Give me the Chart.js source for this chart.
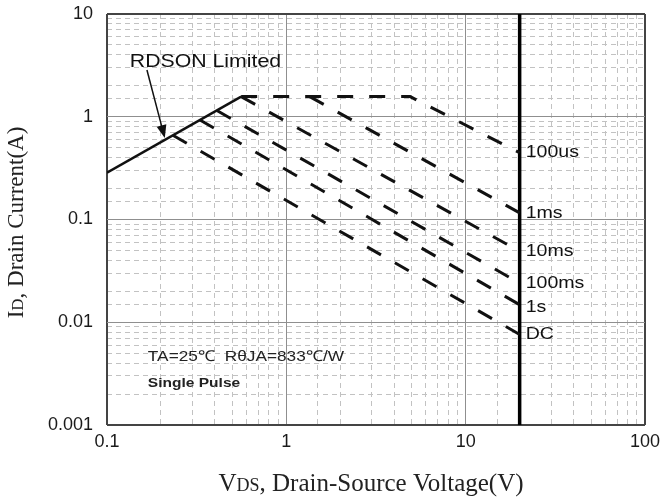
<!DOCTYPE html>
<html>
<head>
<meta charset="utf-8">
<script src="https://cdn.jsdelivr.net/npm/chart.js@4.4.0/dist/chart.umd.min.js"></script>
<style>
html, body { margin: 0; padding: 0; background: #fff; }
#wrap { width: 666px; height: 501px; }
</style>
</head>
<body>
<div id="wrap"><canvas id="soaChart"></canvas></div>
<script>
// decade tick labels
var xTicks = [0.1, 1, 10, 100];
var yTicks = [0.001, 0.01, 0.1, 1, 10];

// RDS(on) limit
var rdsVds = [0.1, 0.56];
var rdsId = [0.285, 1.57];

// pulse width curves
var us100Vds = [0.56, 4.9, 20];
var us100Id = [1.57, 1.57, 0.446];
var ms1Vds = [1.35, 20];
var ms1Id = [1.57, 0.116];
var ms10Vds = [0.56, 20];
var ms10Id = [1.57, 0.049];
var ms100Vds = [0.41, 20];
var ms100Id = [1.15, 0.024];
var s1Vds = [0.33, 20];
var s1Id = [0.93, 0.0148];
var dcVds = [0.233, 20];
var dcId = [0.66, 0.0076];

// VDS max
var bvVds = [20, 20];
var bvId = [10, 0.001];

// curve labels at the 20V line
var pulseLabels = ['100us', '1ms', '10ms', '100ms', '1s', 'DC'];
var pulseLabelId = [0.446, 0.116, 0.049, 0.024, 0.014, 0.0076];

// annotation anchors (data units)
var rdsText = { x: 0.134, y: 3.4 };
var arrowFrom = { x: 0.167, y: 2.85 };
var arrowTo = { x: 0.21, y: 0.62 };
var noteX = 0.169;
var noteY = [0.0046, 0.00257];

function pts(xs, ys) {
    return xs.map(function(x, i) { return { x: x, y: ys[i] }; });
}

function isDecade(v) {
    var l = Math.log10(v);
    return Math.abs(l - Math.round(l)) < 1e-6;
}

function findTick(list, v) {
    for (var i = 0; i < list.length; i++) {
        if (Math.abs(list[i] - v) / list[i] < 1e-6) return String(list[i]);
    }
    return '';
}

var dashed = { borderColor: '#111', borderWidth: 3, borderDash: [16, 16], pointRadius: 0, showLine: true, fill: false };

function curve(label, xs, ys) {
    return Object.assign({ label: label, data: pts(xs, ys) }, dashed);
}

// text helper, the source image is a bit wider than tall
var stretch = 1.15;
function drawText(ctx, text, x, y, font, align) {
    ctx.save();
    ctx.font = font;
    ctx.textBaseline = 'middle';
    ctx.textAlign = 'left';
    var w = ctx.measureText(text).width * stretch;
    var x0 = align === 'center' ? x - w / 2 : x;
    ctx.translate(x0, y);
    ctx.scale(stretch, 1);
    ctx.fillText(text, 0, 0);
    ctx.restore();
}

function drawParts(ctx, parts, x, y, family) {
    var total = 0;
    parts.forEach(function(p) {
        ctx.font = p.size + 'px ' + family;
        total += ctx.measureText(p.t).width;
    });
    var cx = x - total / 2;
    parts.forEach(function(p) {
        ctx.font = p.size + 'px ' + family;
        ctx.fillText(p.t, cx, y);
        cx += ctx.measureText(p.t).width;
    });
}

var sans = '"Liberation Sans", Arial, sans-serif';

var soaText = {
    id: 'soaText',
    afterDatasetsDraw: function(chart) {
        var ctx = chart.ctx;
        var xs = chart.scales.x, ys = chart.scales.y;
        var area = chart.chartArea;
        ctx.save();
        ctx.fillStyle = '#111';

        // curve labels
        var lx = xs.getPixelForValue(20) + 6;
        pulseLabels.forEach(function(t, i) {
            drawText(ctx, t, lx, ys.getPixelForValue(pulseLabelId[i]), '17px ' + sans);
        });

        // RDSON label and arrow
        drawText(ctx, 'RDSON Limited', xs.getPixelForValue(rdsText.x), ys.getPixelForValue(rdsText.y), '18.5px ' + sans);
        var ax = xs.getPixelForValue(arrowFrom.x), ay = ys.getPixelForValue(arrowFrom.y);
        var bx = xs.getPixelForValue(arrowTo.x), by = ys.getPixelForValue(arrowTo.y);
        var ang = Math.atan2(by - ay, bx - ax);
        ctx.strokeStyle = '#111';
        ctx.lineWidth = 1.5;
        ctx.beginPath();
        ctx.moveTo(ax, ay);
        ctx.lineTo(bx - 8 * Math.cos(ang), by - 8 * Math.sin(ang));
        ctx.stroke();
        ctx.beginPath();
        ctx.moveTo(bx, by);
        ctx.lineTo(bx - 13 * Math.cos(ang) + 5 * Math.sin(ang), by - 13 * Math.sin(ang) - 5 * Math.cos(ang));
        ctx.lineTo(bx - 13 * Math.cos(ang) - 5 * Math.sin(ang), by - 13 * Math.sin(ang) + 5 * Math.cos(ang));
        ctx.closePath();
        ctx.fill();

        // notes
        ctx.fillStyle = '#222';
        drawText(ctx, 'TA=25\u2103  R\u03b8JA=833\u2103/W', xs.getPixelForValue(noteX), ys.getPixelForValue(noteY[0]), '15px ' + sans);
        drawText(ctx, 'Single Pulse', xs.getPixelForValue(noteX), ys.getPixelForValue(noteY[1]), 'bold 13.5px ' + sans);

        // axis titles
        var serif = '"Liberation Serif", "Times New Roman", serif';
        ctx.fillStyle = '#222';
        ctx.textBaseline = 'alphabetic';
        ctx.textAlign = 'left';
        drawParts(ctx, [{ t: 'V', size: 25 }, { t: 'DS', size: 18 }, { t: ', Drain-Source Voltage(V)', size: 25 }],
            371, 491, serif);
        ctx.save();
        ctx.translate(23, (area.top + area.bottom) / 2 + 3);
        ctx.rotate(-Math.PI / 2);
        drawParts(ctx, [{ t: 'I', size: 23 }, { t: 'D', size: 17 }, { t: ', Drain Current(A)', size: 23 }], 0, 0, serif);
        ctx.restore();
        ctx.restore();
    }
};

var tickFont = { family: sans, size: 18 };

new Chart(document.getElementById('soaChart'), {
    type: 'scatter',
    data: {
        datasets: [
            curve('100us', us100Vds, us100Id),
            curve('1ms', ms1Vds, ms1Id),
            curve('10ms', ms10Vds, ms10Id),
            curve('100ms', ms100Vds, ms100Id),
            curve('1s', s1Vds, s1Id),
            curve('DC', dcVds, dcId),
            { label: 'RDSON', data: pts(rdsVds, rdsId), borderColor: '#111', borderWidth: 2.5, pointRadius: 0, showLine: true },
            { label: 'BVDSS', data: pts(bvVds, bvId), borderColor: '#000', borderWidth: 3.5, pointRadius: 0, showLine: true }
        ]
    },
    options: {
        responsive: true,
        maintainAspectRatio: false,
        animation: false,
        layout: { padding: 0 },
        plugins: { legend: { display: false }, tooltip: { enabled: false } },
        scales: {
            x: {
                type: 'logarithmic', position: 'bottom', min: 0.1, max: 100,
                afterFit: function(s) { s.height = 76; s.paddingLeft = 0; s.paddingRight = 0; },
                border: { display: false, dash: [5, 4] },
                grid: {
                    color: function(c) { return c.tick && isDecade(c.tick.value) ? 'rgba(0,0,0,0)' : '#c2c2c2'; },
                    lineWidth: 1, drawTicks: false
                },
                ticks: {
                    autoSkip: false, maxRotation: 0, padding: 6, color: '#1a1a1a', font: tickFont,
                    callback: function(v) { return findTick(xTicks, v); }
                }
            },
            y: {
                type: 'logarithmic', position: 'left', min: 0.001, max: 10,
                afterFit: function(s) { s.width = 107; s.paddingTop = 0; s.paddingBottom = 0; },
                border: { display: false, dash: [5, 4] },
                grid: {
                    color: function(c) { return c.tick && isDecade(c.tick.value) ? 'rgba(0,0,0,0)' : '#c2c2c2'; },
                    lineWidth: 1, drawTicks: false
                },
                ticks: {
                    autoSkip: false, padding: 14, color: '#1a1a1a', font: tickFont,
                    callback: function(v) { return findTick(yTicks, v); }
                }
            },
            xMajor: {
                type: 'logarithmic', position: 'top', min: 0.1, max: 100,
                afterFit: function(s) { s.height = 14; s.paddingLeft = 0; s.paddingRight = 0; },
                afterBuildTicks: function(s) { s.ticks = s.ticks.filter(function(t) { return isDecade(t.value); }); },
                border: { display: false },
                grid: {
                    color: function(c) { return c.tick && (c.tick.value <= 0.1 || c.tick.value >= 100) ? '#444' : '#8f8f8f'; },
                    lineWidth: function(c) { return c.tick && (c.tick.value <= 0.1 || c.tick.value >= 100) ? 2 : 1; },
                    drawTicks: false
                },
                ticks: { display: false }
            },
            yMajor: {
                type: 'logarithmic', position: 'right', min: 0.001, max: 10,
                afterFit: function(s) { s.width = 21; s.paddingTop = 0; s.paddingBottom = 0; },
                afterBuildTicks: function(s) { s.ticks = s.ticks.filter(function(t) { return isDecade(t.value); }); },
                border: { display: false },
                grid: {
                    color: function(c) { return c.tick && (c.tick.value <= 0.001 || c.tick.value >= 10) ? '#444' : '#8f8f8f'; },
                    lineWidth: function(c) { return c.tick && (c.tick.value <= 0.001 || c.tick.value >= 10) ? 2 : 1; },
                    drawTicks: false
                },
                ticks: { display: false }
            }
        }
    },
    plugins: [soaText]
});
</script>
</body>
</html>
